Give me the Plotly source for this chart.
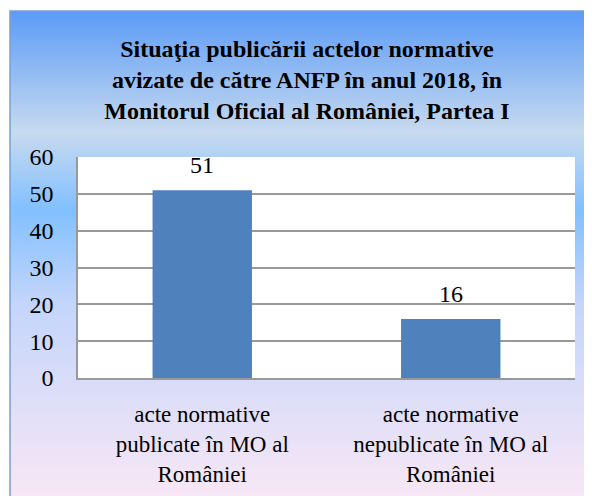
import base64
import plotly.graph_objects as go

# chart data
categories = ["acte normative<br>publicate în MO al<br>României",
              "acte normative<br>nepublicate în MO al<br>României"]
values = [51, 16]
y_ticks = [0, 10, 20, 30, 40, 50, 60]

title_text = ("<b>Situaţia publicării actelor normative<br>"
              "avizate de către ANFP în anul 2018, în<br>"
              "Monitorul Oficial al României, Partea I</b>")

# the page puts the figure 8px in from the window corner
OFF = 8
W, H = 592 - OFF, 496 - OFF
L, R, T, B = 78 - OFF, 17, 157 - OFF, 118
PW, PH = W - L - R, H - T - B

FONT = '"Liberation Serif", "DejaVu Serif", serif'

# background gradient as an svg image
svg = """<svg xmlns='http://www.w3.org/2000/svg' width='100' height='100' preserveAspectRatio='none'>
<defs><linearGradient id='g' x1='0' y1='0' x2='0' y2='1'>
<stop offset='0' stop-color='#5b9bf7'/>
<stop offset='0.25' stop-color='#c7daef'/>
<stop offset='0.41' stop-color='#82c0ff'/>
<stop offset='0.60' stop-color='#c3d5fb'/>
<stop offset='1' stop-color='#f8e7f5'/>
</linearGradient></defs>
<rect x='0' y='0' width='100' height='100' fill='url(#g)'/></svg>"""
bg_src = "data:image/svg+xml;base64," + base64.b64encode(svg.encode()).decode()


# screen pixel -> paper coordinates
def px_x(px):
    return (px - OFF - L) / PW


def px_y(py):
    return (H - B - (py - OFF)) / PH


fig = go.Figure()
fig.add_trace(go.Bar(x=categories, y=values, marker_color="#4f81bd",
                     marker_line_width=0, width=0.4))

# value labels above the bars
for c, v in zip(categories, values):
    fig.add_annotation(x=c, y=v, text=str(v), showarrow=False, yshift=25,
                       yanchor="middle", font=dict(family=FONT, size=24, color="black"))

fig.update_layout(
    width=W, height=H,
    margin=dict(l=L, r=R, t=T, b=B),
    paper_bgcolor="white",
    plot_bgcolor="rgba(0,0,0,0)",
    showlegend=False,
    font=dict(family=FONT, size=23, color="black"),
    title=dict(text=title_text, x=(307 - OFF) / W, xanchor="center", xref="container",
               y=1 - 49 / H, yanchor="top", yref="container",
               font=dict(family=FONT, size=24, color="black")),
    images=[dict(source=bg_src, xref="paper", yref="paper",
                 x=px_x(10), y=px_y(11), sizex=(592 - 10) / PW, sizey=(496 - 11) / PH,
                 xanchor="left", yanchor="top", sizing="stretch", layer="below")],
    shapes=[
        dict(type="rect", xref="paper", yref="paper", x0=0, x1=1, y0=0, y1=1,
             fillcolor="white", line_width=0, layer="below"),
        dict(type="rect", xref="paper", yref="paper", x0=px_x(10), x1=px_x(600),
             y0=px_y(505), y1=px_y(11), line=dict(color="#7a9fcf", width=1.5),
             layer="below"),
    ],
)

fig.update_yaxes(range=[0, 60], tickvals=y_ticks, showgrid=True, gridcolor="#999999",
                 gridwidth=1.5, showline=True, linecolor="#999999", linewidth=1.5,
                 zeroline=False, ticks="", ticklabelstandoff=18, automargin=False,
                 tickfont=dict(family=FONT, size=24))
fig.update_xaxes(showline=True, linecolor="#999999", linewidth=1.5, ticks="",
                 ticklabelstandoff=15, automargin=False,
                 tickfont=dict(family=FONT, size=23))

fig.write_html("out.html")
